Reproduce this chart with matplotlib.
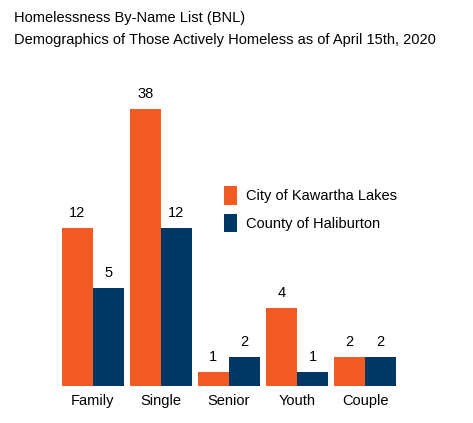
import matplotlib
matplotlib.use("Agg")
import matplotlib.pyplot as plt
import numpy as np

categories = ["Family", "Single", "Senior", "Youth", "Couple"]
kawartha = [12, 38, 1, 4, 2]
haliburton = [5, 12, 2, 1, 2]
series_names = ["City of Kawartha Lakes", "County of Haliburton"]

# the reference's value axis is not linear; mapping (px)
scale_vals = np.array([0, 1, 2, 4, 5, 12, 38, 45])
scale_px = np.array([0, 14, 29, 78, 98, 158, 277, 316])
fwd = lambda v: np.interp(v, scale_vals, scale_px)
inv = lambda p: np.interp(p, scale_px, scale_vals)

plt.rcParams['font.family'] = ['Liberation Sans', 'DejaVu Sans']
fig = plt.figure(figsize=(4.73, 4.23), dpi=100)
ax = fig.add_axes([0.11, 0.0875, 0.748, 0.69])
ax.set_yscale('function', functions=(fwd, inv))
x = np.arange(len(categories))
w = 0.456
orange, navy = "#F15A22", "#003764"
b1 = ax.bar(x - w/2, kawartha, w, color=orange, label=series_names[0])
b2 = ax.bar(x + w/2, haliburton, w, color=navy, label=series_names[1])
for bars, vals in ((b1, kawartha), (b2, haliburton)):
    for r, v in zip(bars, vals):
        ax.annotate(str(v), (r.get_x() + r.get_width()/2, v), xytext=(0, 6),
                    textcoords='offset points', ha='center', va='bottom', fontsize=10.5)
ax.set_xlim(-0.6, 4.6)
ax.set_ylim(0, inv(292))
ax.set_xticks(x)
ax.set_xticklabels(categories, fontsize=10.5)
ax.tick_params(axis='x', length=0, pad=6)
ax.set_yticks([])
ax.minorticks_off()
for s in ax.spines.values():
    s.set_visible(False)
ax.legend(loc='upper left', bbox_to_anchor=(0.45, 0.73), frameon=False, fontsize=10.5,
          handlelength=0.9, handleheight=1.6, labelspacing=0.6, handletextpad=0.6)
fig.text(14/473, 1 - 18/423, "Homelessness By-Name List (BNL)", fontsize=10.5, va='center')
fig.text(14/473, 1 - 40/423, "Demographics of Those Actively Homeless as of April 15th, 2020", fontsize=10.5, va='center')
fig.savefig("out.png", dpi=100)
